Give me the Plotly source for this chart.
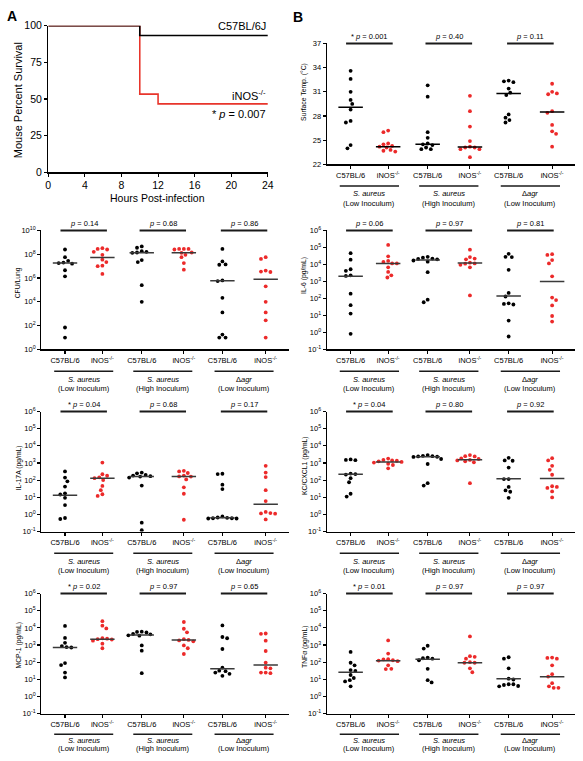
import numpy as np
import plotly.graph_objects as go

W, H = 583, 761
FONT = "Liberation Sans, Arial, Helvetica, sans-serif"
RED = "#ec2a2a"
BLACK = "#000000"
MEDGRAY = "#3a3a3a"

# ---------------- data ----------------
km_hours = [0, 10, 12, 24]
km_c57 = [100, 93.3, 93.3, 93.3]
km_inos = [100, 53.3, 46.7, 46.7]
km_p = "* <i>p</i> = 0.007"

strain_labels = ["C57BL/6", "iNOS<sup>-/-</sup>"]
group_names = ["<i>S. aureus</i>", "<i>S. aureus</i>", "Δ<i>agr</i>"]
group_inocula = ["(Low Inoculum)", "(High Inoculum)", "(Low Inoculum)"]

temp_c57 = [[33.6, 32.6, 31.0, 30.0, 29.5, 28.8, 27.4, 27.2, 24.4, 24.0],
            [31.8, 30.4, 26.0, 25.3, 24.6, 24.5, 24.4, 24.1, 23.9, 23.9],
            [32.4, 32.3, 32.2, 31.4, 30.9, 30.6, 28.2, 27.8, 27.5, 27.2]]
temp_inos = [[26.2, 26.0, 24.6, 24.5, 24.3, 24.2, 24.1, 23.8, 23.7, 23.6],
             [30.5, 28.6, 26.7, 24.9, 24.2, 24.1, 24.1, 23.9, 23.9, 22.9],
             [32.0, 31.0, 30.8, 30.7, 28.6, 28.4, 26.9, 26.1, 25.8, 24.2]]
temp_med_c57 = [29.1, 24.5, 30.8]
temp_med_inos = [24.2, 24.15, 28.5]
temp_p = ["* <i>p</i> = 0.001", "<i>p</i> = 0.40", "<i>p</i> = 0.11"]

cfu_c57 = [[2.5e8, 5.6e7, 2.8e7, 2.0e7, 1.8e7, 1.6e7, 4.5e6, 1.4e6, 70, 10],
           [4.5e8, 3.5e8, 1.8e8, 1.6e8, 1.4e8, 1.3e8, 3.2e7, 2.2e7, 2.5e5, 1.0e4],
           [2.8e8, 2.5e7, 1.4e7, 1.3e7, 6.3e5, 5.6e5, 2.2e4, 1.3e3, 18, 10, 10]]
cfu_inos = [[3.2e8, 2.8e8, 2.5e8, 1.6e8, 8.9e7, 3.5e7, 2.2e7, 1.1e7, 1.0e7, 2.2e6],
            [2.8e8, 2.8e8, 2.8e8, 2.5e8, 1.4e8, 1.3e8, 8.9e7, 5.6e7, 1.8e7, 5.0e6],
            [5.6e7, 4.0e7, 4.2e6, 3.5e6, 3.2e6, 2.0e5, 1.0e4, 1.3e3, 280, 10]]
cfu_med_c57 = [1.8e7, 1.35e8, 5.9e5]
cfu_med_inos = [5.2e7, 1.35e8, 8.0e5]
cfu_p = ["<i>p</i> = 0.14", "<i>p</i> = 0.68", "<i>p</i> = 0.86"]

il6_c57 = [[4.6e4, 1.9e4, 5.2e3, 4.2e3, 2.3e3, 2.1e3, 190, 40, 13, 0.83],
           [2.8e4, 2.5e4, 2.2e4, 2.1e4, 2.0e4, 1.7e4, 1.45e4, 3.5e3, 85, 60],
           [4.2e4, 2.8e4, 2.7e4, 4.8e3, 210, 130, 52, 48, 44, 5.0, 0.58]]
il6_inos = [[1.4e5, 3.0e4, 1.6e4, 1.4e4, 1.15e4, 1.15e4, 6.8e3, 3.6e3, 2.3e3, 1.7e3],
            [7.4e4, 2.7e4, 2.2e4, 2.0e4, 1.26e4, 1.15e4, 1.1e4, 9.5e3, 6.8e3, 150],
            [4.0e4, 3.6e4, 1.8e4, 1.15e4, 2.0e3, 112, 80, 39, 9.3, 4.4]]
il6_med_c57 = [2.0e3, 1.85e4, 140]
il6_med_inos = [1.15e4, 1.2e4, 1.0e3]
il6_p = ["<i>p</i> = 0.06", "<i>p</i> = 0.97", "<i>p</i> = 0.81"]

il17_c57 = [[320, 140, 85, 42, 17, 14.5, 9.3, 3.5, 0.62, 0.54],
            [275, 250, 200, 185, 170, 160, 140, 48, 0.33, 0.12],
            [235, 225, 54, 30, 0.76, 0.66, 0.63, 0.6, 0.58, 0.58, 0.6]]
il17_inos = [[1050, 220, 180, 145, 130, 100, 46, 26, 15, 12],
             [350, 320, 260, 185, 165, 160, 110, 38, 16, 0.49],
             [680, 275, 150, 26, 6.0, 1.4, 1.2, 1.1, 1.15, 0.51]]
il17_med_c57 = [13, 160, 0.65]
il17_med_inos = [130, 160, 3.9]
il17_p = ["* <i>p</i> = 0.04", "<i>p</i> = 0.68", "<i>p</i> = 0.17"]

kc_c57 = [[1600, 1500, 1450, 240, 225, 210, 130, 75, 16, 11],
          [2900, 2600, 2500, 2400, 2300, 2250, 1700, 870, 66, 48],
          [2000, 1400, 1350, 540, 115, 115, 40, 25, 21, 9.3]]
kc_inos = [[1800, 1500, 1400, 1350, 1250, 1150, 1050, 900, 760, 490],
           [2900, 2500, 2400, 1850, 1700, 1500, 1400, 1250, 1100, 66],
           [1900, 1400, 680, 400, 205, 44, 40, 35, 22, 9.8]]
kc_med_c57 = [220, 2300, 120]
kc_med_inos = [1150, 1550, 125]
kc_p = ["* <i>p</i> = 0.04", "<i>p</i> = 0.80", "<i>p</i> = 0.92"]

mcp_c57 = [[1.3e4, 2600, 1350, 870, 760, 720, 89, 68, 25, 13],
           [6000, 5800, 5400, 4400, 4200, 3700, 3500, 950, 470, 23],
           [1.4e4, 2950, 2500, 590, 48, 32, 30, 25, 21, 16]]
mcp_inos = [[2.45e4, 1.35e4, 9300, 2500, 2200, 2100, 1800, 1200, 650, 2350],
            [2.2e4, 8900, 5500, 2200, 2000, 1850, 1650, 950, 650, 300],
            [4700, 4500, 1800, 450, 95, 48, 44, 25, 23, 25]]
mcp_med_c57 = [720, 3900, 42]
mcp_med_inos = [2200, 2000, 68]
mcp_p = ["* <i>p</i> = 0.02", "<i>p</i> = 0.97", "<i>p</i> = 0.65"]

tnf_c57 = [[400, 93, 66, 35, 31, 18, 12, 9, 7.6, 3.9],
           [910, 620, 185, 170, 160, 130, 41, 9, 6.6],
           [195, 160, 44, 11, 9.8, 5.2, 4.7, 4.1, 3.9, 5.2]]
tnf_inos = [[1850, 320, 150, 145, 130, 125, 115, 66, 41, 40],
            [3200, 225, 205, 160, 100, 93, 93, 44, 26],
            [185, 178, 160, 66, 20, 14.5, 6.0, 3.9, 3.2, 3.2]]
tnf_med_c57 = [26, 150, 11]
tnf_med_inos = [120, 93, 14]
tnf_p = ["* <i>p</i> = 0.01", "<i>p</i> = 0.97", "<i>p</i> = 0.97"]

# ---------------- layout helpers ----------------
def px(x):
    return x / W


def py(y):
    return 1 - y / H


UNIT = 40.0                      # pixels per x unit in the dot panels
XPOS = [0.6, 1.55, 2.55, 3.62, 4.6, 5.7]
XRANGE = [0, 6.28]

fig = go.Figure()
annotations = []
shapes = []
layout = {}


def ann(text, x, y, size, xanchor="center", yanchor="middle", angle=0, bold=False):
    annotations.append(dict(
        text=("<b>%s</b>" % text) if bold else text, x=px(x), y=py(y), xref="paper", yref="paper",
        showarrow=False, xanchor=xanchor, yanchor=yanchor, textangle=angle,
        font=dict(family=FONT, size=size, color="black")))


def swarm(vals, log, ppu, d=4.4):
    ys = (np.log10(vals) if log else np.asarray(vals, float)) * ppu
    n = len(ys)
    order = np.argsort(-ys, kind="stable")
    placed = []
    offs = np.zeros(n)
    flip = 1
    for i in order:
        y = ys[i]
        chosen = 0.0
        for k in range(0, 60):
            cands = [0.0] if k == 0 else [flip * k * 0.8, -flip * k * 0.8]
            ok = None
            for c in cands:
                if all((c - ox) ** 2 + (y - oy) ** 2 >= d * d for ox, oy in placed):
                    ok = c
                    break
            if ok is not None:
                chosen = ok
                break
        placed.append((chosen, y))
        offs[i] = chosen
        flip = -flip
    return offs / UNIT


def axis_common():
    return dict(showline=True, linecolor="black", linewidth=1.3, ticks="outside",
                ticklen=3, tickwidth=1.1, tickcolor="black", showgrid=False, zeroline=False,
                tickfont=dict(family=FONT, size=7.5, color="black"), fixedrange=True)


# ---------------- Panel A (Kaplan-Meier) ----------------
xa = dict(axis_common(), domain=[px(46), px(269)], range=[0, 24], tickvals=list(range(0, 25, 4)),
          anchor="y")
xa["tickfont"] = dict(family=FONT, size=10.5, color="black")
ya = dict(axis_common(), domain=[py(169), py(20)], range=[0, 100], tickvals=[0, 25, 50, 75, 100],
          anchor="x")
ya["tickfont"] = dict(family=FONT, size=10.5, color="black")
layout["xaxis"] = xa
layout["yaxis"] = ya
fig.add_trace(go.Scatter(x=km_hours, y=km_inos, mode="lines", line=dict(color="#e8352b", width=1.6, shape="hv"),
                         xaxis="x", yaxis="y", hoverinfo="skip"))
fig.add_trace(go.Scatter(x=km_hours, y=km_c57, mode="lines", line=dict(color="black", width=1.6, shape="hv"),
                         xaxis="x", yaxis="y", hoverinfo="skip"))
ann("C57BL/6J", 269, 20, 11, xanchor="right")
ann("iNOS<sup>-/-</sup>", 269, 90, 11, xanchor="right")
ann(km_p, 269, 110, 11, xanchor="right")
ann("Mouse Percent Survival", 16, 96, 11, angle=-90)
ann("Hours Post-infection", 157, 195, 10.5)
ann("A", 9, 10, 14, bold=True)
ann("B", 300, 11, 14, bold=True)

# ---------------- dot panels ----------------
panels = [
    dict(c57=temp_c57, inos=temp_inos, mc=temp_med_c57, mi=temp_med_inos, p=temp_p,
         title="Surface Temp. (°C)", log=False, rng=[22, 37], ticks=[22, 25, 28, 31, 34, 37],
         box=(329, 581, 38, 161), ttl=(305, 87), medcol="black"),
    dict(c57=cfu_c57, inos=cfu_inos, mc=cfu_med_c57, mi=cfu_med_inos, p=cfu_p,
         title="CFU/Lung", log=True, rng=[0, 10], ticks=[0, 2, 4, 6, 8, 10],
         box=(39, 290, 228, 349), ttl=(15, 281), medcol=MEDGRAY),
    dict(c57=il6_c57, inos=il6_inos, mc=il6_med_c57, mi=il6_med_inos, p=il6_p,
         title="IL-6 (pg/mL)", log=True, rng=[-1, 6], ticks=list(range(-1, 7)),
         box=(329, 581, 228, 349), ttl=(305, 274), medcol=MEDGRAY),
    dict(c57=il17_c57, inos=il17_inos, mc=il17_med_c57, mi=il17_med_inos, p=il17_p,
         title="IL-17A (pg/mL)", log=True, rng=[-1, 6], ticks=list(range(-1, 7)),
         box=(39, 290, 412, 534), ttl=(16, 469), medcol=MEDGRAY),
    dict(c57=kc_c57, inos=kc_inos, mc=kc_med_c57, mi=kc_med_inos, p=kc_p,
         title="KC/CXCL1 (pg/mL)", log=True, rng=[-1, 6], ticks=list(range(-1, 7)),
         box=(329, 581, 412, 534), ttl=(306, 467), medcol=MEDGRAY),
    dict(c57=mcp_c57, inos=mcp_inos, mc=mcp_med_c57, mi=mcp_med_inos, p=mcp_p,
         title="MCP-1 (pg/mL)", log=True, rng=[-1, 6], ticks=list(range(-1, 7)),
         box=(39, 290, 597, 719), ttl=(16, 650), medcol=MEDGRAY),
    dict(c57=tnf_c57, inos=tnf_inos, mc=tnf_med_c57, mi=tnf_med_inos, p=tnf_p,
         title="TNFα (pg/mL)", log=True, rng=[-1, 6], ticks=list(range(-1, 7)),
         box=(329, 581, 597, 719), ttl=(306, 651), medcol=MEDGRAY),
]

for k, P in enumerate(panels):
    n = k + 2
    xn, yn = "x%d" % n, "y%d" % n
    x0, x1, top, bot = P["box"]
    xa = dict(axis_common(), domain=[px(x0), px(x1)], range=XRANGE, anchor=yn,
              tickvals=XPOS, ticktext=strain_labels * 3)
    ya = dict(axis_common(), domain=[py(bot), py(top)], anchor=xn)
    if P["log"]:
        ya.update(type="log", range=P["rng"], tickvals=[10.0 ** t for t in P["ticks"]],
                  ticktext=["10<sup>%d</sup>" % t for t in P["ticks"]])
    else:
        ya.update(range=P["rng"], tickvals=P["ticks"])
    layout["xaxis%d" % n] = xa
    layout["yaxis%d" % n] = ya

    bottom_row = bot > 700
    uline = bot + (21 if bottom_row else 22)
    name_y = bot + (27.5 if bottom_row else 30)

    span = P["rng"][1] - P["rng"][0]
    ppu = (bot - top) / span
    medx, medy = [], []
    for g in range(3):
        for s, (vals, col, med) in enumerate([(P["c57"][g], BLACK, P["mc"][g]),
                                               (P["inos"][g], RED, P["mi"][g])]):
            xc = XPOS[2 * g + s]
            offs = swarm(vals, P["log"], ppu)
            fig.add_trace(go.Scatter(x=xc + offs, y=vals, mode="markers",
                                     marker=dict(color=col, size=3.8, line=dict(width=0)),
                                     xaxis=xn, yaxis=yn, hoverinfo="skip"))
            medx += [xc - 0.31, xc + 0.31, None]
            medy += [med, med, None]
        cx = (XPOS[2 * g] + XPOS[2 * g + 1]) / 2
        shapes.append(dict(type="line", xref=xn, yref="paper", x0=cx - 0.59, x1=cx + 0.59,
                           y0=py(top), y1=py(top), line=dict(color="#1a1a1a", width=2)))
        annotations.append(dict(text=P["p"][g], x=cx, y=py(top - 7.5), xref=xn, yref="paper",
                                showarrow=False, xanchor="center", yanchor="middle",
                                font=dict(family=FONT, size=7.5, color="black")))
        shapes.append(dict(type="line", xref=xn, yref="paper", x0=cx - 0.75, x1=cx + 0.75,
                           y0=py(uline), y1=py(uline), line=dict(color="#1a1a1a", width=1.5)))
        annotations.append(dict(text=group_names[g], x=cx, y=py(name_y), xref=xn, yref="paper",
                                showarrow=False, xanchor="center", yanchor="middle",
                                font=dict(family=FONT, size=7.5, color="black")))
        if bottom_row:
            annotations.append(dict(text=group_inocula[g], x=cx, y=0, xref=xn, yref="paper",
                                    showarrow=False, xanchor="center", yanchor="bottom",
                                    font=dict(family=FONT, size=7.5, color="black")))
        else:
            annotations.append(dict(text=group_inocula[g], x=cx, y=py(bot + 39.5), xref=xn, yref="paper",
                                    showarrow=False, xanchor="center", yanchor="middle",
                                    font=dict(family=FONT, size=7.5, color="black")))
    fig.add_trace(go.Scatter(x=medx, y=medy, mode="lines",
                             line=dict(color=P["medcol"], width=1.5),
                             xaxis=xn, yaxis=yn, hoverinfo="skip", connectgaps=False))
    ann(P["title"], P["ttl"][0], P["ttl"][1], 6.8, angle=-90)

fig.update_layout(**layout)
fig.update_layout(width=W, height=H, margin=dict(l=0, r=0, t=0, b=0), showlegend=False,
                  plot_bgcolor="white", paper_bgcolor="white",
                  annotations=annotations, shapes=shapes,
                  font=dict(family=FONT, size=7.5, color="black"))
fig.write_html("out.html", config={"displayModeBar": False, "staticPlot": True},
               post_script="document.body.style.margin='0';document.body.style.overflow='hidden';")
